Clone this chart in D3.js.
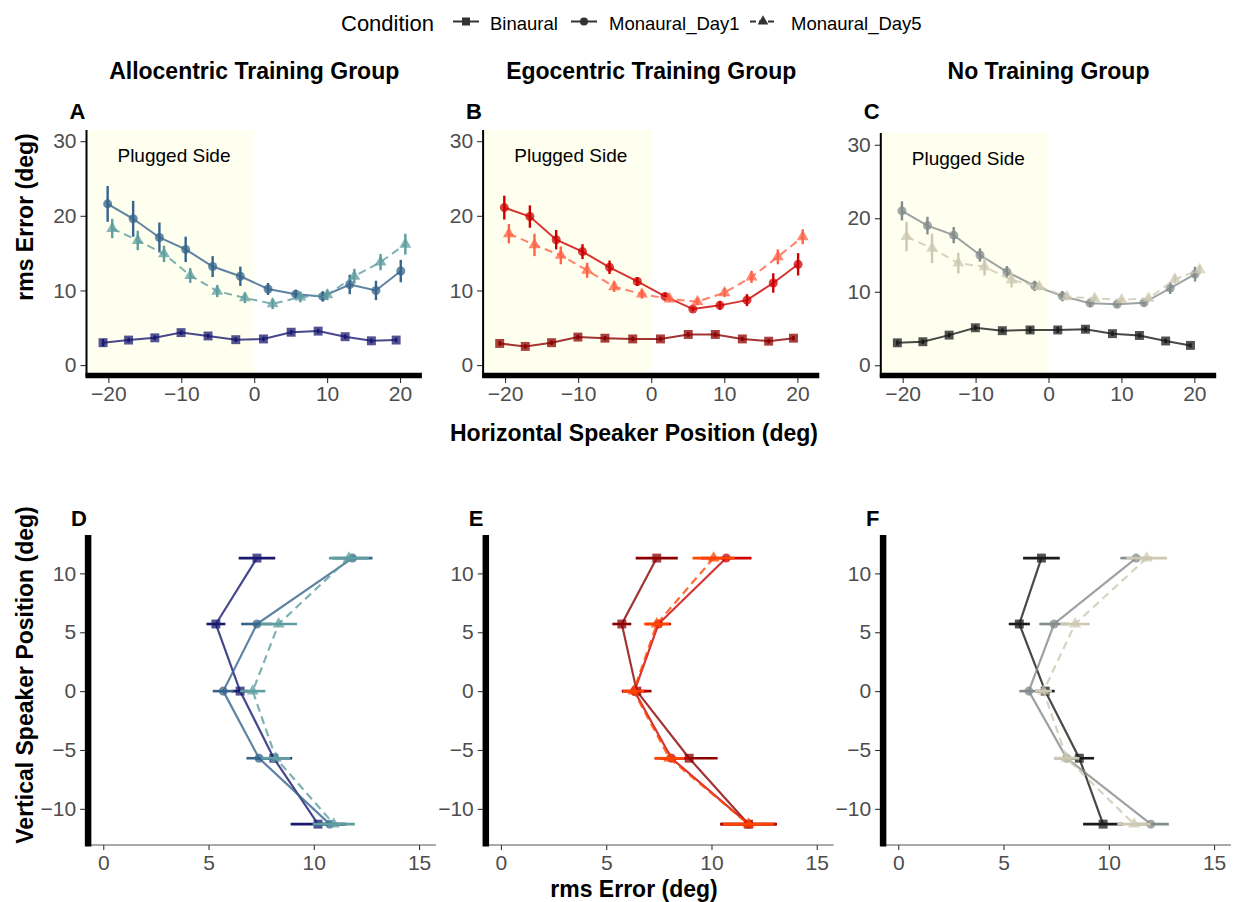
<!DOCTYPE html>
<html>
<head>
<meta charset="utf-8">
<script src="https://cdn.jsdelivr.net/npm/d3@7"></script>
<style>
  body { margin: 0; background: #fff; }
  text { font-family: "Liberation Sans", Arial, sans-serif; }
</style>
</head>
<body>
<div id="chart"></div>
<script>
// ---- data ----
const conditions = ["Binaural", "Monaural_Day1", "Monaural_Day5"];
const groupTitles = ["Allocentric Training Group", "Egocentric Training Group", "No Training Group"];
const panelLettersTop = ["A", "B", "C"];
const panelLettersBottom = ["D", "E", "F"];

const horizTicks = [-20, -10, 0, 10, 20];
const rmsTicksTop = [0, 10, 20, 30];
const rmsTicksBottom = [0, 5, 10, 15];
const vertTicks = [-10, -5, 0, 5, 10];

// speaker positions (deg)
const horizPos = [-20.1, -16.6, -13.0, -9.4, -5.7, -1.9, 1.9, 5.7, 9.4, 13.1, 16.7, 20.1];
const vertPos = [11.3, 5.7, 0, -5.7, -11.3];

// horizontal plane rms error (deg) and its error bar half-width
const alloH_bin   = [3.0, 3.35, 3.65, 4.35, 3.9, 3.4, 3.5, 4.4, 4.55, 3.8, 3.25, 3.35];
const alloH_binSe = [0.5, 0.3, 0.3, 0.3, 0.3, 0.3, 0.3, 0.3, 0.3, 0.3, 0.3, 0.3];
const alloH_d1    = [21.6, 19.6, 17.1, 15.5, 13.2, 11.9, 10.2, 9.5, 9.2, 10.8, 10.0, 12.6];
const alloH_d1Se  = [2.4, 2.4, 2.0, 1.7, 1.4, 1.3, 0.8, 0.6, 0.7, 1.3, 1.3, 1.5];
const alloH_d5    = [18.3, 16.7, 14.9, 12.0, 9.9, 9.0, 8.2, 9.1, 9.4, 11.9, 13.8, 16.2];
const alloH_d5Se  = [1.3, 1.3, 1.1, 1.0, 0.8, 0.7, 0.7, 0.7, 0.7, 1.0, 1.1, 1.4];

const egoH_bin   = [2.9, 2.5, 3.0, 3.75, 3.6, 3.5, 3.5, 4.1, 4.1, 3.5, 3.2, 3.6];
const egoH_binSe = [0.3, 0.3, 0.3, 0.3, 0.3, 0.3, 0.3, 0.3, 0.3, 0.3, 0.3, 0.3];
const egoH_d1    = [21.1, 19.9, 16.8, 15.2, 13.1, 11.2, 9.2, 7.5, 8.0, 8.7, 11.0, 13.5];
const egoH_d1Se  = [1.6, 1.5, 1.3, 1.0, 0.9, 0.6, 0.5, 0.3, 0.6, 0.8, 1.3, 1.5];
const egoH_d5    = [17.6, 16.1, 14.7, 12.7, 10.5, 9.5, 8.85, 8.5, 9.7, 11.8, 14.5, 17.2];
const egoH_d5Se  = [1.3, 1.5, 1.2, 1.0, 0.7, 0.6, 0.4, 0.5, 0.6, 0.8, 1.0, 1.0];

const noneH_bin   = [3.05, 3.2, 4.1, 5.1, 4.7, 4.8, 4.8, 4.9, 4.3, 4.05, 3.3, 2.7];
const noneH_binSe = [0.35, 0.3, 0.3, 0.35, 0.3, 0.4, 0.4, 0.35, 0.3, 0.3, 0.3, 0.3];
const noneH_d1    = [21.0, 19.0, 17.7, 15.0, 12.7, 10.8, 9.4, 8.45, 8.3, 8.5, 10.5, 12.4];
const noneH_d1Se  = [1.3, 1.2, 1.1, 0.9, 0.8, 0.7, 0.7, 0.5, 0.4, 0.4, 0.8, 1.0];
const noneH_d5    = [17.5, 15.9, 13.9, 13.4, 11.6, 10.7, 9.3, 9.1, 8.9, 9.1, 11.7, 13.0];
const noneH_d5Se  = [2.0, 2.0, 1.4, 1.2, 1.0, 0.5, 0.4, 0.4, 0.3, 0.4, 0.6, 0.6];

// vertical plane rms error (deg)
const alloV_bin   = [7.3, 5.35, 6.5, 8.1, 10.2];
const alloV_binSe = [0.87, 0.45, 0.4, 0.87, 1.3];
const alloV_d1    = [11.84, 7.3, 5.7, 7.4, 10.76];
const alloV_d1Se  = [0.95, 0.75, 0.5, 0.6, 0.8];
const alloV_d5    = [11.67, 8.33, 7.1, 8.2, 10.95];
const alloV_d5Se  = [0.95, 0.87, 0.6, 0.7, 1.0];

const egoV_bin   = [7.4, 5.74, 6.45, 8.94, 11.76];
const egoV_binSe = [1.0, 0.45, 0.7, 1.35, 1.35];
const egoV_d1    = [10.7, 7.48, 6.34, 8.1, 11.76];
const egoV_d1Se  = [1.2, 0.6, 0.6, 0.8, 1.3];
const egoV_d5    = [10.1, 7.4, 6.3, 8.0, 11.76];
const egoV_d5Se  = [1.0, 0.6, 0.5, 0.7, 1.2];

const noneV_bin   = [6.8, 5.75, 6.98, 8.6, 9.73];
const noneV_binSe = [0.87, 0.5, 0.45, 0.7, 0.95];
const noneV_d1    = [11.3, 7.4, 6.2, 8.0, 12.0];
const noneV_d1Se  = [0.75, 0.7, 0.45, 0.6, 0.85];
const noneV_d5    = [11.8, 8.4, 6.9, 8.0, 11.2];
const noneV_d5Se  = [0.97, 0.7, 0.4, 0.6, 0.8];

// ---- styles ----
const width = 1241, height = 902;
const dodge = [-0.63, 0, 0.63];
const symbols = [d3.symbolSquare, d3.symbolCircle, d3.symbolTriangle];
const symbolSizes = [80, 64, 62];
const dashes = [null, null, "8,5"];
const tickColor = "#333333";
const tickTextColor = "#4D4D4D";

const paletteTop = [
  ["#191970", "#36648B", "#5F9EA0"],
  ["#8B0000", "#CD0000", "#FF6347"],
  ["#1A1A1A", "#838B8B", "#CDC8B1"]
];
const paletteBottom = [
  ["#191970", "#36648B", "#5F9EA0"],
  ["#8B0000", "#CD0000", "#FF4500"],
  ["#1A1A1A", "#838B8B", "#CDC8B1"]
];

const topSeries = [
  [[alloH_bin, alloH_binSe], [alloH_d1, alloH_d1Se], [alloH_d5, alloH_d5Se]],
  [[egoH_bin, egoH_binSe], [egoH_d1, egoH_d1Se], [egoH_d5, egoH_d5Se]],
  [[noneH_bin, noneH_binSe], [noneH_d1, noneH_d1Se], [noneH_d5, noneH_d5Se]]
];
const bottomSeries = [
  [[alloV_bin, alloV_binSe], [alloV_d1, alloV_d1Se], [alloV_d5, alloV_d5Se]],
  [[egoV_bin, egoV_binSe], [egoV_d1, egoV_d1Se], [egoV_d5, egoV_d5Se]],
  [[noneV_bin, noneV_binSe], [noneV_d1, noneV_d1Se], [noneV_d5, noneV_d5Se]]
];

// panel frames (pixel layout)
const topX = [[86.5, 421.9], [483.1, 819.3], [880.8, 1216.2]];
const topYDomain = [[-1.6, 31.5], [-1.6, 31.5], [-1.6, 31.6]];
const topYRange = [[377, 130], [377, 130], [377, 133]];
const bottomX = [[88.1, 435.9], [485.8, 833.6], [883.1, 1230.9]];
const bottomYRange = [845, 535];

const svg = d3.select("#chart").append("svg")
  .attr("width", width)
  .attr("height", height);

function styleAxis(g) {
  g.select(".domain").remove();
  g.selectAll(".tick line").attr("stroke", tickColor).attr("stroke-width", 1.1);
  g.selectAll(".tick text")
    .attr("fill", tickTextColor)
    .attr("font-size", 21)
    .attr("font-family", "'Liberation Sans', Arial, sans-serif");
}

function drawTopPanel(i) {
  const x = d3.scaleLinear().domain([-23, 23]).range(topX[i]);
  const y = d3.scaleLinear().domain(topYDomain[i]).range(topYRange[i]);
  const [x0, x1] = topX[i];
  const [yb, yt] = topYRange[i];
  const g = svg.append("g");

  // plugged side shading
  g.append("rect")
    .attr("x", x0).attr("y", yt)
    .attr("width", x(0) - x0).attr("height", yb - yt)
    .attr("fill", "#FFFFF0");
  g.append("text")
    .attr("x", x(-11)).attr("y", y(27.2))
    .attr("text-anchor", "middle")
    .attr("font-size", 19)
    .text("Plugged Side");

  // axes
  g.append("g")
    .attr("transform", `translate(${x0},0)`)
    .call(d3.axisLeft(y).tickValues(rmsTicksTop).tickSize(6).tickPadding(4))
    .call(styleAxis);
  g.append("g")
    .attr("transform", `translate(0,${yb + 1})`)
    .call(d3.axisBottom(x).tickValues(horizTicks).tickSize(5).tickPadding(3))
    .call(styleAxis);
  g.append("line")
    .attr("x1", x0).attr("x2", x0).attr("y1", yt).attr("y2", yb)
    .attr("stroke", "#000").attr("stroke-width", 2);
  g.append("line")
    .attr("x1", x0 - 1).attr("x2", x1).attr("y1", yb - 1.5).attr("y2", yb - 1.5)
    .attr("stroke", "#000").attr("stroke-width", 5.5);

  // series
  topSeries[i].forEach((s, c) => {
    const color = paletteTop[i][c];
    const pts = horizPos.map((h, j) => ({ h: h + dodge[c], v: s[0][j], se: s[1][j] }));
    g.append("path")
      .datum(pts)
      .attr("fill", "none")
      .attr("stroke", color)
      .attr("stroke-opacity", 0.8)
      .attr("stroke-width", 2)
      .attr("stroke-dasharray", dashes[c])
      .attr("d", d3.line().x(d => x(d.h)).y(d => y(d.v)));
    g.selectAll(null).data(pts).enter().append("path")
      .attr("transform", d => `translate(${x(d.h)},${y(d.v)})`)
      .attr("d", d3.symbol().type(symbols[c]).size(symbolSizes[c]))
      .attr("fill", color)
      .attr("fill-opacity", 0.75);
    g.selectAll(null).data(pts).enter().append("line")
      .attr("x1", d => x(d.h)).attr("x2", d => x(d.h))
      .attr("y1", d => y(d.v - d.se)).attr("y2", d => y(d.v + d.se))
      .attr("stroke", color)
      .attr("stroke-width", 2.4);
  });

  // title and letter
  svg.append("text")
    .attr("x", (x0 + x1) / 2).attr("y", 79)
    .attr("text-anchor", "middle")
    .attr("font-size", 23).attr("font-weight", "bold")
    .text(groupTitles[i]);
  svg.append("text")
    .attr("x", x0 - 17).attr("y", 119)
    .attr("font-size", 22).attr("font-weight", "bold")
    .text(panelLettersTop[i]);
}

function drawBottomPanel(i) {
  const x = d3.scaleLinear().domain([-0.72, 15.8]).range(bottomX[i]);
  const y = d3.scaleLinear().domain([-13.07, 13.26]).range(bottomYRange);
  const [x0, x1] = bottomX[i];
  const [yb, yt] = bottomYRange;
  const g = svg.append("g");

  g.append("g")
    .attr("transform", `translate(${x0 - 3},0)`)
    .call(d3.axisLeft(y).tickValues(vertTicks).tickSize(5).tickPadding(4))
    .call(styleAxis);
  g.append("g")
    .attr("transform", `translate(0,${yb})`)
    .call(d3.axisBottom(x).tickValues(rmsTicksBottom).tickSize(5).tickPadding(5))
    .call(styleAxis);
  g.append("line")
    .attr("x1", x0).attr("x2", x1).attr("y1", yb).attr("y2", yb)
    .attr("stroke", "#555").attr("stroke-width", 1.2);
  g.append("line")
    .attr("x1", x0).attr("x2", x0).attr("y1", yt).attr("y2", yb + 1.5)
    .attr("stroke", "#000").attr("stroke-width", 6.5);

  bottomSeries[i].forEach((s, c) => {
    const color = paletteBottom[i][c];
    const pts = vertPos.map((p, j) => ({ p: p, v: s[0][j], se: s[1][j] }));
    g.append("path")
      .datum(pts)
      .attr("fill", "none")
      .attr("stroke", color)
      .attr("stroke-opacity", 0.8)
      .attr("stroke-width", 2.2)
      .attr("stroke-dasharray", dashes[c])
      .attr("d", d3.line().x(d => x(d.v)).y(d => y(d.p)));
    g.selectAll(null).data(pts).enter().append("path")
      .attr("transform", d => `translate(${x(d.v)},${y(d.p)})`)
      .attr("d", d3.symbol().type(symbols[c]).size(symbolSizes[c]))
      .attr("fill", color)
      .attr("fill-opacity", 0.75);
    g.selectAll(null).data(pts).enter().append("line")
      .attr("x1", d => x(d.v - d.se)).attr("x2", d => x(d.v + d.se))
      .attr("y1", d => y(d.p)).attr("y2", d => y(d.p))
      .attr("stroke", color)
      .attr("stroke-width", 2.6);
  });

  svg.append("text")
    .attr("x", x0 - 17).attr("y", 526)
    .attr("font-size", 22).attr("font-weight", "bold")
    .text(panelLettersBottom[i]);
}

[0, 1, 2].forEach(drawTopPanel);
[0, 1, 2].forEach(drawBottomPanel);

// axis titles
svg.append("text")
  .attr("transform", "translate(33,217) rotate(-90)")
  .attr("text-anchor", "middle")
  .attr("font-size", 23).attr("font-weight", "bold")
  .text("rms Error (deg)");
svg.append("text")
  .attr("transform", "translate(33,675) rotate(-90)")
  .attr("text-anchor", "middle")
  .attr("font-size", 23).attr("font-weight", "bold")
  .text("Vertical Speaker Position (deg)");
svg.append("text")
  .attr("x", 634).attr("y", 441)
  .attr("text-anchor", "middle")
  .attr("font-size", 23).attr("font-weight", "bold")
  .text("Horizontal Speaker Position (deg)");
svg.append("text")
  .attr("x", 634).attr("y", 897)
  .attr("text-anchor", "middle")
  .attr("font-size", 23).attr("font-weight", "bold")
  .text("rms Error (deg)");

// legend
const legend = svg.append("g");
legend.append("text")
  .attr("x", 341).attr("y", 31)
  .attr("font-size", 22)
  .text("Condition");
const legendKeyX = [453, 571, 750];
const legendLabelX = [490, 609, 791];
conditions.forEach((name, c) => {
  const kx = legendKeyX[c];
  legend.append("line")
    .attr("x1", kx).attr("x2", kx + 26).attr("y1", 21.5).attr("y2", 21.5)
    .attr("stroke", "#333").attr("stroke-width", 2)
    .attr("stroke-dasharray", dashes[c] ? "6,3" : null);
  legend.append("path")
    .attr("transform", `translate(${kx + 13},21.5)`)
    .attr("d", d3.symbol().type(symbols[c]).size(symbolSizes[c] * 0.8))
    .attr("fill", "#333");
  legend.append("text")
    .attr("x", legendLabelX[c]).attr("y", 30)
    .attr("font-size", 18.5)
    .text(name);
});
</script>
</body>
</html>
